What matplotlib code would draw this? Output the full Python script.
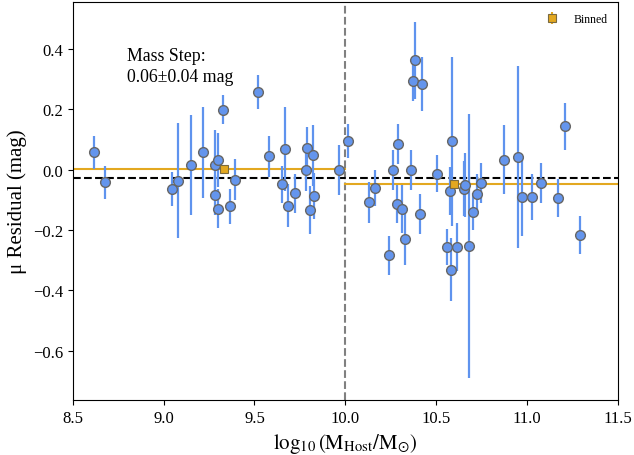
import matplotlib.pyplot as plt
import numpy as np

plt.rcParams['font.family'] = ['Liberation Serif', 'DejaVu Serif']
plt.rcParams['mathtext.fontset'] = 'stix'

# host mass, hubble residual and error for each SN
mass = [8.615, 8.675, 9.046, 9.081, 9.153, 9.217, 9.283, 9.299, 9.325, 9.285,
        9.301, 9.363, 9.391, 9.517, 9.578, 9.649, 9.670, 9.685, 9.725, 9.791,
        9.785, 9.822, 9.807, 9.829, 9.963, 10.017, 10.128, 10.165, 10.24, 10.26,
        10.288, 10.285, 10.314, 10.329, 10.363, 10.373, 10.385, 10.424, 10.413, 10.505,
        10.56, 10.585, 10.574, 10.58, 10.615, 10.651, 10.66, 10.681, 10.705, 10.725,
        10.747, 10.872, 10.952, 10.972, 11.029, 11.075, 11.168, 11.206, 11.29]
resid = [0.057, -0.042, -0.065, -0.037, 0.016, 0.057, 0.016, 0.032, 0.199, -0.084,
         -0.130, -0.122, -0.033, 0.257, 0.044, -0.049, 0.068, -0.120, -0.079, 0.073,
         0.0, 0.047, -0.133, -0.087, -0.002, 0.095, -0.108, -0.062, -0.284, -0.002,
         0.085, -0.114, -0.130, -0.231, 0.0, 0.293, 0.362, 0.284, -0.147, -0.014,
         -0.256, 0.094, -0.072, -0.332, -0.257, -0.063, -0.051, -0.254, -0.139, -0.081,
         -0.044, 0.033, 0.042, -0.090, -0.090, -0.044, -0.093, 0.143, -0.217]
err = [0.055, 0.055, 0.057, 0.19, 0.165, 0.15, 0.115, 0.09, 0.048, 0.065,
       0.065, 0.058, 0.067, 0.056, 0.067, 0.06, 0.14, 0.071, 0.066, 0.068,
       0.07, 0.1, 0.08, 0.077, 0.082, 0.056, 0.068, 0.06, 0.064, 0.067,
       0.065, 0.063, 0.08, 0.086, 0.066, 0.067, 0.128, 0.09, 0.066, 0.061,
       0.06, 0.28, 0.08, 0.104, 0.08, 0.09, 0.105, 0.437, 0.06, 0.068,
       0.066, 0.115, 0.302, 0.13, 0.077, 0.067, 0.063, 0.078, 0.063]

bin_mass = [9.332, 10.596]
bin_resid = [0.001, -0.049]
bin_err = [0.01, 0.01]

split = 10.0
mean_resid = -0.028
step = 0.06
step_err = 0.04

fig = plt.figure(figsize=(6.34, 4.56), dpi=100)
ax = fig.add_axes([0.1147, 0.121, 0.86, 0.872])

gold = '#e3a820'
ax.errorbar(mass, resid, yerr=err, fmt='o', color='#6495ED', ecolor='#5f93ee',
            elinewidth=1.6, markersize=7, markeredgecolor='#666666',
            markeredgewidth=1.0, zorder=3)
ax.errorbar(bin_mass, bin_resid, yerr=bin_err, fmt='s', color=gold,
            ecolor=gold, markersize=6, markeredgecolor='#7a6a40',
            markeredgewidth=0.8, zorder=4, label='Binned')

ax.plot([8.5, split], [bin_resid[0], bin_resid[0]], color=gold, lw=1.5, zorder=2)
ax.plot([split, 11.5], [bin_resid[1], bin_resid[1]], color=gold, lw=1.5, zorder=2)
ax.axhline(mean_resid, color='black', ls='--', lw=1.5, zorder=2)
ax.axvline(split, color='gray', ls='--', lw=1.5, zorder=1)

ax.text(0.1, 0.888, 'Mass Step:\n%.2f\u00b1%.2f mag' % (step, step_err),
        transform=ax.transAxes, fontsize=12.8, va='top', linespacing=1.3)

ax.set_xlim(8.5, 11.5)
ax.set_ylim(-0.763, 0.555)
ax.set_xticks([8.5, 9.0, 9.5, 10.0, 10.5, 11.0, 11.5])
ax.set_yticks([-0.6, -0.4, -0.2, 0.0, 0.2, 0.4])
ax.tick_params(labelsize=12)
ax.set_xlabel(r'$\log_{10}(\mathrm{M}_{\mathrm{Host}}/\mathrm{M}_{\odot})$', fontsize=15)
ax.set_ylabel('\u03bc Residual (mag)', fontsize=15)
ax.legend(loc='upper right', frameon=False, fontsize=8.5)

fig.savefig('out.png', dpi=100)
